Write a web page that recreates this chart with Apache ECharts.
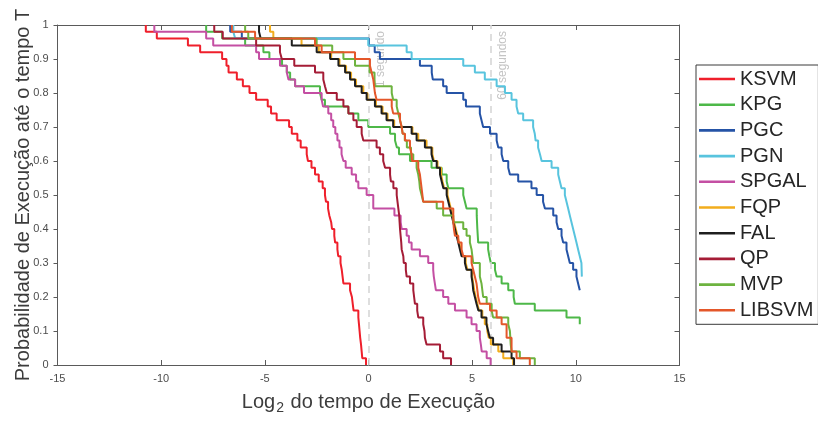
<!DOCTYPE html>
<html>
<head>
<meta charset="utf-8">
<script src="https://cdn.jsdelivr.net/npm/echarts@6.0.0/dist/echarts.min.js"></script>
<style>
  html, body { margin: 0; padding: 0; background: #ffffff; }
  #chart { width: 818px; height: 421px; }
</style>
</head>
<body>
<div id="chart"></div>
<script>
// Solver names and their line colours (legend order = drawing order)
const solverNames = ['KSVM', 'KPG', 'PGC', 'PGN', 'SPGAL', 'FQP', 'FAL', 'QP', 'MVP', 'LIBSVM'];
const solverColors = ['#ef1f2b', '#4db848', '#2553a6', '#58c4de', '#c44fa3', '#f2ad1c', '#1e1e1e', '#a51c36', '#6db33f', '#e4572a'];

// Step curves: [log2(time), probability] — the level changes to the given value at that x
const ksvmSteps = [[-10.74,1],[-10.74,0.98],[-10.21,0.96],[-8.71,0.94],[-8.12,0.92],[-7.06,0.90],[-6.85,0.88],[-6.75,0.86],[-6.35,0.84],[-6.06,0.82],[-5.74,0.80],[-5.42,0.78],[-4.86,0.76],[-4.70,0.74],[-4.43,0.72],[-3.83,0.70],[-3.70,0.68],[-3.43,0.66],[-3.27,0.64],[-2.98,0.62],[-2.92,0.60],[-2.75,0.58],[-2.58,0.56],[-2.40,0.54],[-2.21,0.52],[-2.10,0.50],[-2.05,0.48],[-1.95,0.46],[-1.89,0.44],[-1.80,0.42],[-1.76,0.40],[-1.65,0.38],[-1.61,0.36],[-1.50,0.34],[-1.46,0.32],[-1.35,0.30],[-1.29,0.28],[-1.21,0.24],[-0.89,0.22],[-0.80,0.20],[-0.76,0.18],[-0.72,0.16],[-0.49,0.14],[-0.46,0.12],[-0.43,0.10],[-0.40,0.08],[-0.36,0.06],[-0.33,0.04],[-0.30,0.02],[-0.12,0]];
const kpgSteps = [[-7.83,1],[-7.83,0.98],[-7.06,0.96],[-5.95,0.94],[-5.07,0.92],[-4.78,0.90],[-4.17,0.88],[-3.94,0.86],[-3.78,0.84],[-3.54,0.82],[-2.34,0.80],[-2.26,0.78],[-2.10,0.76],[-0.97,0.74],[-0.49,0.72],[-0.01,0.70],[1.04,0.68],[1.28,0.66],[1.37,0.64],[1.47,0.62],[2.00,0.60],[3.04,0.58],[3.53,0.56],[3.77,0.54],[3.85,0.52],[4.57,0.50],[4.65,0.48],[4.73,0.46],[5.22,0.44],[5.25,0.40],[5.29,0.36],[5.77,0.34],[5.83,0.32],[5.90,0.30],[6.10,0.28],[6.18,0.26],[6.42,0.24],[6.74,0.22],[7.00,0.20],[7.06,0.18],[8.02,0.16],[9.55,0.14],[10.19,0.12]];
const pgcSteps = [[-6.67,1],[-6.67,0.98],[-6.11,0.96],[0.02,0.94],[0.30,0.92],[0.55,0.90],[2.48,0.88],[3.05,0.86],[3.10,0.84],[3.60,0.82],[3.77,0.80],[4.57,0.78],[4.70,0.76],[5.37,0.74],[5.45,0.72],[5.53,0.70],[5.86,0.68],[6.18,0.66],[6.26,0.64],[6.42,0.62],[6.50,0.60],[6.74,0.58],[6.82,0.56],[7.22,0.54],[7.86,0.52],[8.11,0.50],[8.42,0.48],[8.51,0.46],[8.91,0.44],[9.07,0.42],[9.15,0.40],[9.31,0.38],[9.39,0.36],[9.55,0.34],[9.63,0.32],[9.71,0.30],[9.87,0.28],[10.03,0.26],[10.11,0.24],[10.19,0.22]];
const pgnSteps = [[-6.52,1],[-6.52,0.98],[-6.43,0.96],[-0.01,0.94],[1.84,0.92],[2.08,0.90],[4.57,0.88],[5.13,0.86],[5.61,0.84],[6.18,0.82],[6.58,0.80],[6.90,0.78],[7.14,0.76],[7.22,0.74],[7.46,0.72],[7.94,0.70],[8.02,0.68],[8.06,0.66],[8.18,0.64],[8.27,0.62],[8.35,0.60],[8.83,0.58],[9.15,0.56],[9.23,0.54],[9.31,0.52],[9.47,0.50],[9.55,0.48],[9.63,0.46],[9.71,0.44],[9.79,0.42],[9.87,0.40],[9.95,0.38],[10.03,0.36],[10.11,0.34],[10.19,0.32],[10.27,0.30],[10.29,0.26]];
const spgalSteps = [[-10.33,1],[-10.33,0.98],[-7.83,0.96],[-7.49,0.94],[-5.42,0.92],[-5.28,0.90],[-4.27,0.88],[-3.94,0.86],[-3.86,0.84],[-3.54,0.82],[-3.11,0.80],[-2.26,0.78],[-2.19,0.76],[-1.94,0.74],[-1.80,0.72],[-1.70,0.70],[-1.60,0.68],[-1.50,0.66],[-1.40,0.64],[-1.30,0.62],[-1.21,0.60],[-1.10,0.58],[-0.81,0.56],[-0.60,0.54],[-0.49,0.52],[-0.09,0.50],[0.23,0.46],[1.25,0.44],[1.55,0.42],[1.60,0.40],[1.84,0.38],[1.95,0.36],[2.08,0.34],[2.48,0.32],[2.88,0.30],[3.12,0.28],[3.15,0.26],[3.20,0.24],[3.25,0.22],[3.60,0.20],[3.85,0.18],[4.17,0.16],[4.73,0.14],[4.97,0.12],[5.21,0.10],[5.37,0.08],[5.42,0.06],[5.46,0.04],[5.70,0.02],[5.89,0]];
const fqpSteps = [[-4.75,1],[-4.75,0.98],[-4.59,0.96],[-3.23,0.94],[-2.40,0.92],[-1.80,0.90],[-1.40,0.88],[-1.08,0.86],[-0.84,0.84],[-0.60,0.82],[-0.25,0.80],[-0.05,0.78],[0.36,0.76],[0.68,0.74],[0.92,0.72],[1.24,0.70],[2.12,0.68],[2.40,0.66],[2.80,0.64],[3.08,0.62],[3.16,0.60],[3.33,0.58],[3.50,0.56],[3.57,0.54],[3.65,0.52],[3.81,0.50],[3.89,0.48],[3.97,0.46],[4.05,0.44],[4.13,0.42],[4.21,0.40],[4.29,0.38],[4.37,0.36],[4.45,0.34],[4.53,0.32],[4.69,0.30],[4.77,0.28],[5.00,0.26],[5.05,0.24],[5.10,0.22],[5.17,0.20],[5.25,0.18],[5.33,0.16],[5.49,0.14],[5.61,0.12],[5.73,0.10],[5.80,0.08],[5.90,0.06],[6.26,0.04],[6.50,0.02],[6.98,0]];
const falSteps = [[-5.28,1],[-5.28,0.98],[-5.20,0.96],[-3.70,0.94],[-2.50,0.92],[-1.85,0.90],[-1.45,0.88],[-1.13,0.86],[-0.89,0.84],[-0.65,0.82],[-0.33,0.80],[-0.09,0.78],[0.31,0.76],[0.63,0.74],[0.87,0.72],[1.19,0.70],[2.08,0.68],[2.32,0.66],[2.72,0.64],[3.04,0.62],[3.12,0.60],[3.29,0.58],[3.45,0.56],[3.53,0.54],[3.61,0.52],[3.77,0.50],[3.85,0.48],[3.93,0.46],[4.01,0.44],[4.09,0.42],[4.17,0.40],[4.25,0.38],[4.33,0.36],[4.41,0.34],[4.49,0.32],[4.65,0.30],[4.73,0.28],[4.97,0.26],[5.02,0.24],[5.05,0.22],[5.13,0.20],[5.21,0.18],[5.30,0.16],[5.45,0.14],[5.69,0.12],[5.77,0.10],[5.85,0.08],[6.01,0.06],[6.42,0.04],[6.90,0.02],[7.02,0]];
const qpSteps = [[-7.44,1],[-7.44,0.98],[-7.03,0.96],[-5.42,0.94],[-4.27,0.92],[-4.18,0.90],[-3.58,0.88],[-2.58,0.86],[-2.18,0.84],[-2.10,0.82],[-2.01,0.80],[-1.53,0.78],[-1.21,0.76],[-0.97,0.74],[-0.73,0.72],[-0.57,0.70],[-0.33,0.68],[-0.25,0.66],[0.39,0.64],[0.55,0.62],[0.71,0.60],[0.80,0.58],[1.04,0.56],[1.08,0.54],[1.20,0.52],[1.36,0.50],[1.40,0.48],[1.44,0.46],[1.48,0.44],[1.50,0.42],[1.52,0.40],[1.55,0.38],[1.58,0.36],[1.60,0.34],[1.68,0.32],[1.70,0.30],[1.80,0.28],[1.84,0.26],[2.00,0.24],[2.16,0.22],[2.20,0.20],[2.24,0.18],[2.35,0.16],[2.40,0.14],[2.64,0.12],[2.70,0.10],[2.72,0.08],[2.80,0.06],[3.45,0.04],[3.60,0.02],[3.98,0]];
const mvpSteps = [[-5.95,1],[-5.95,0.98],[-5.80,0.96],[-2.50,0.94],[-1.75,0.92],[-1.21,0.90],[-0.65,0.88],[0.05,0.86],[0.29,0.84],[0.31,0.82],[1.12,0.80],[1.19,0.78],[1.36,0.76],[1.44,0.74],[1.52,0.72],[1.60,0.70],[1.65,0.68],[1.75,0.66],[1.85,0.64],[2.05,0.62],[2.16,0.60],[2.32,0.58],[2.40,0.56],[2.45,0.54],[2.48,0.52],[2.56,0.50],[2.64,0.48],[3.29,0.46],[3.60,0.44],[4.09,0.42],[4.57,0.40],[4.73,0.38],[4.89,0.36],[4.97,0.34],[5.05,0.30],[5.37,0.26],[5.45,0.24],[5.53,0.20],[5.70,0.18],[5.94,0.16],[6.01,0.14],[6.74,0.12],[6.82,0.10],[6.86,0.06],[6.90,0.04],[7.30,0.02],[8.02,0]];
const libsvmSteps = [[-6.59,1],[-6.59,0.98],[-5.47,0.96],[-2.58,0.94],[-2.26,0.92],[-0.65,0.90],[0.07,0.88],[0.15,0.86],[0.23,0.84],[0.27,0.82],[0.31,0.80],[0.39,0.78],[1.12,0.76],[1.19,0.74],[1.52,0.72],[1.60,0.70],[1.65,0.68],[1.76,0.66],[2.00,0.64],[2.08,0.62],[2.10,0.60],[2.40,0.58],[2.48,0.56],[2.56,0.52],[2.64,0.48],[3.60,0.46],[4.09,0.42],[4.12,0.40],[4.17,0.38],[4.33,0.36],[4.49,0.34],[4.57,0.32],[4.97,0.30],[5.05,0.28],[5.13,0.26],[5.21,0.24],[5.25,0.22],[5.29,0.20],[5.37,0.18],[5.86,0.16],[6.18,0.14],[6.42,0.12],[6.66,0.08],[6.90,0.04],[7.14,0.02],[7.78,0]];

const solverSteps = [ksvmSteps, kpgSteps, pgcSteps, pgnSteps, spgalSteps, fqpSteps, falSteps, qpSteps, mvpSteps, libsvmSteps];

// Axis ticks
const xTicks = [-15, -10, -5, 0, 5, 10, 15];
const yTickLabels = ['0', '0.1', '0.2', '0.3', '0.4', '0.5', '0.6', '0.7', '0.8', '0.9', '1'];

// Reference times (seconds) marked with dashed vertical lines
const markerSeconds = [1, 60];
const markerLabels = ['1 segundo', '60 segundos'];
const markerX = markerSeconds.map(s => Math.log2(s));

const FONT = '"Liberation Sans", Arial, Helvetica, sans-serif';
const AXIS_COLOR = '#5a5a5a';
const TICK_LABEL_COLOR = '#4d4d4d';

const chart = echarts.init(document.getElementById('chart'), null, { renderer: 'canvas' });

const series = solverNames.map((name, i) => ({
  name: name,
  type: 'line',
  step: 'end',
  data: solverSteps[i],
  symbol: 'none',
  showSymbol: false,
  clip: true,
  z: 3 + i,
  lineStyle: { width: 2, color: solverColors[i] },
  itemStyle: { color: solverColors[i] },
  emphasis: { disabled: true }
}));

// Dashed reference lines live behind the curves
series.unshift({
  name: 'referencias',
  type: 'line',
  data: [],
  z: 1,
  silent: true,
  markLine: {
    silent: true,
    symbol: ['none', 'none'],
    animation: false,
    label: { show: false },
    lineStyle: { type: [7, 5], color: '#d6d6d6', width: 1.6 },
    emphasis: { disabled: true },
    data: markerX.map(v => ({ xAxis: v }))
  }
});

const xMin = xTicks[0], xMax = xTicks[xTicks.length - 1], xStep = xTicks[1] - xTicks[0];

const option = {
  animation: false,
  backgroundColor: '#ffffff',
  grid: { left: 57.5, right: 138.5, top: 25, bottom: 56, containLabel: false, outerBoundsMode: 'none' },
  legend: {
    data: solverNames,
    orient: 'vertical',
    left: 696,
    top: 65,
    icon: 'rect',
    itemWidth: 36,
    itemHeight: 2.6,
    itemGap: 5.7,
    padding: [4, 5, 4, 3],
    borderColor: '#3a3a3a',
    borderWidth: 1,
    backgroundColor: '#ffffff',
    selectedMode: false,
    textStyle: { fontSize: 20, lineHeight: 20, color: '#262626', fontFamily: FONT }
  },
  xAxis: [
    {
      type: 'value', position: 'bottom', min: xMin, max: xMax, interval: xStep,
      name: '{a|Log}{s|2}{a| do tempo de Execução}',
      nameLocation: 'middle', nameGap: 24,
      nameTextStyle: {
        rich: {
          a: { fontSize: 20, color: '#3c3c3c', fontFamily: FONT },
          s: { fontSize: 14, color: '#3c3c3c', fontFamily: FONT, padding: [12, 1, 0, 1] }
        }
      },
      axisLine: { show: true, onZero: false, lineStyle: { color: AXIS_COLOR, width: 1 } },
      axisTick: { show: true, inside: true, length: 5, lineStyle: { color: AXIS_COLOR } },
      axisLabel: { fontSize: 11, color: TICK_LABEL_COLOR, margin: 8, fontFamily: FONT },
      splitLine: { show: false }
    },
    {
      type: 'value', position: 'top', min: xMin, max: xMax, interval: xStep,
      axisLine: { show: true, onZero: false, lineStyle: { color: AXIS_COLOR, width: 1 } },
      axisTick: { show: true, inside: true, length: 5, lineStyle: { color: AXIS_COLOR } },
      axisLabel: { show: false },
      splitLine: { show: false }
    }
  ],
  yAxis: [
    {
      type: 'value', position: 'left', min: 0, max: 1, interval: 0.1,
      name: 'Probabilidade de Execução até o tempo T',
      nameLocation: 'middle', nameGap: 24, nameMoveOverlap: false,
      nameTextStyle: { fontSize: 20, color: '#3c3c3c', fontFamily: FONT },
      axisLine: { show: true, onZero: false, lineStyle: { color: AXIS_COLOR, width: 1 } },
      axisTick: { show: true, inside: false, length: 4, lineStyle: { color: AXIS_COLOR } },
      axisLabel: {
        fontSize: 11, color: TICK_LABEL_COLOR, margin: 9, fontFamily: FONT,
        formatter: v => yTickLabels[Math.round(v * 10)]
      },
      splitLine: { show: false }
    },
    {
      type: 'value', position: 'right', min: 0, max: 1, interval: 0.1,
      axisLine: { show: true, onZero: false, lineStyle: { color: AXIS_COLOR, width: 1 } },
      axisTick: { show: true, inside: true, length: 5, lineStyle: { color: AXIS_COLOR } },
      axisLabel: { show: false },
      splitLine: { show: false }
    }
  ],
  series: series
};

chart.setOption(option);

// Rotated captions next to each dashed reference line
const yTop = chart.convertToPixel({ yAxisIndex: 0 }, 1);
chart.setOption({
  graphic: markerX.map((v, i) => ({
    type: 'text',
    silent: true,
    x: chart.convertToPixel({ xAxisIndex: 0 }, v) + 12,
    y: yTop + 6,
    rotation: Math.PI / 2,
    z: 2,
    style: {
      text: markerLabels[i],
      align: 'right',
      verticalAlign: 'middle',
      fontSize: 12,
      fontFamily: FONT,
      fill: '#c4c4c4'
    }
  }))
});
</script>
</body>
</html>
